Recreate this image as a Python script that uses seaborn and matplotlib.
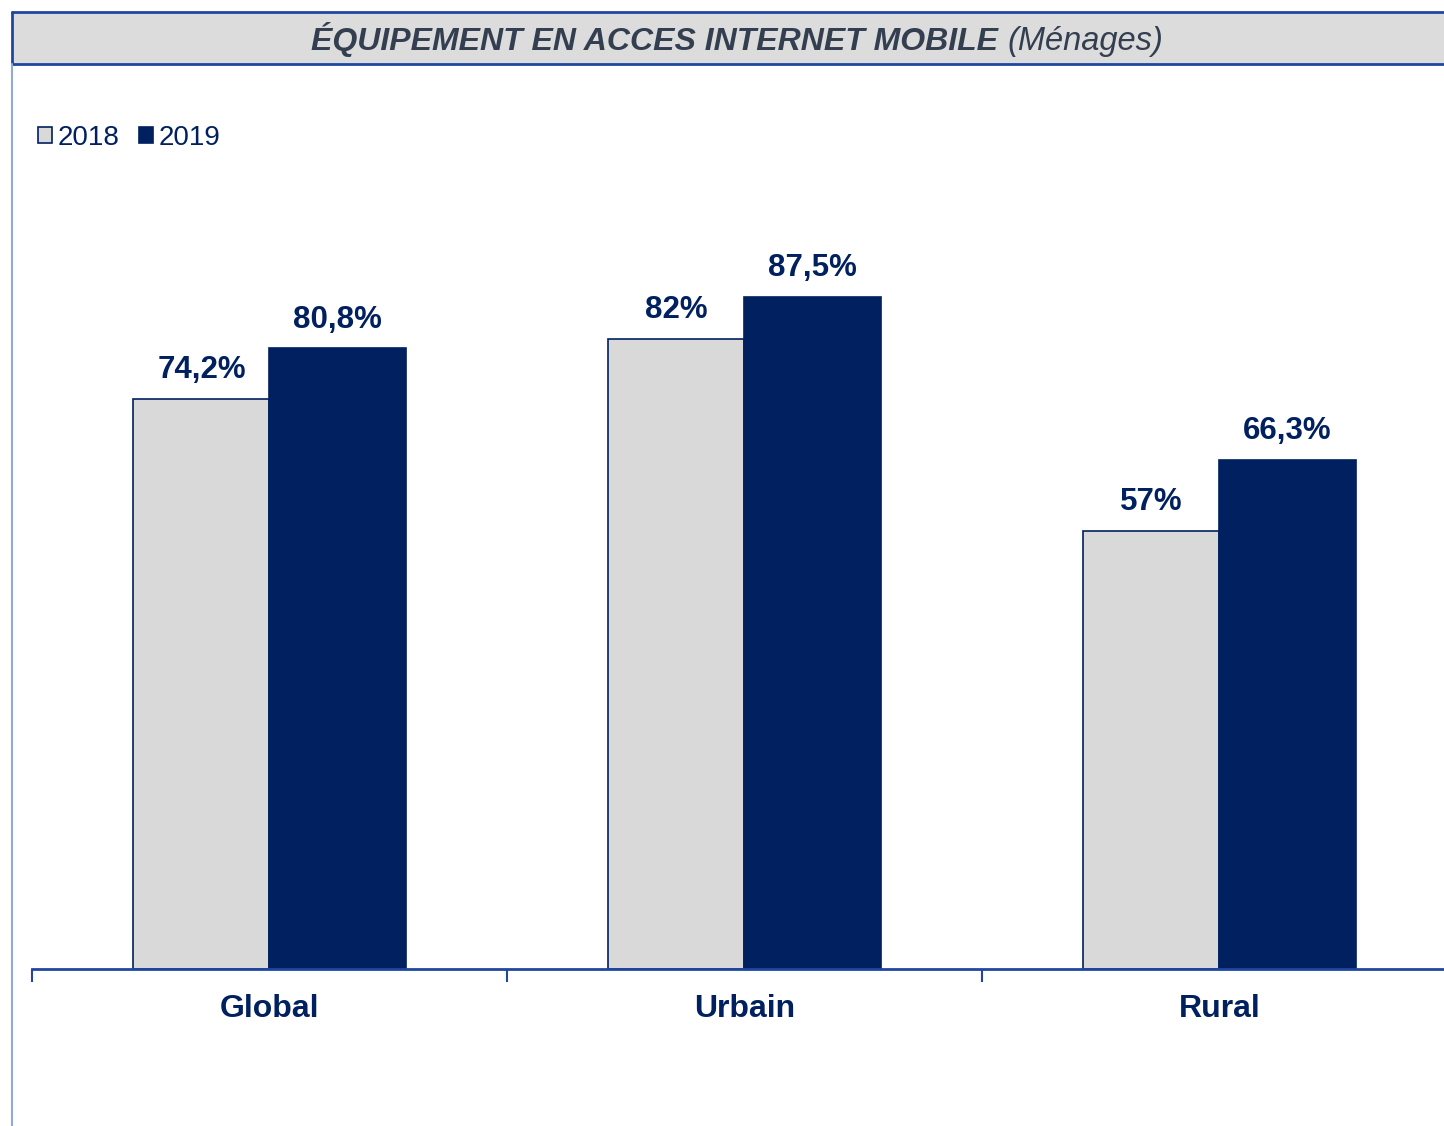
import pandas as pd
import seaborn as sns
import matplotlib.pyplot as plt
from matplotlib.patches import Rectangle, Patch
from matplotlib.lines import Line2D

CATEGORIES = ["Global", "Urbain", "Rural"]
YEARS = ["2018", "2019"]
VALUES_2018 = [74.2, 82.0, 57.0]
VALUES_2019 = [80.8, 87.5, 66.3]

NAVY = "#002060"
GREY = "#d9d9d9"
AXIS_BLUE = "#1f47a0"
W, H = 1444, 1126

sns.set_theme(style="white")
plt.rcParams["font.family"] = ["Liberation Sans", "DejaVu Sans"]

df = pd.DataFrame({
    "cat": CATEGORIES * 2,
    "year": [YEARS[0]] * 3 + [YEARS[1]] * 3,
    "value": VALUES_2018 + VALUES_2019,
})

fig = plt.figure(figsize=(W / 100, H / 100), dpi=100)
ax = fig.add_axes([32 / W, (H - 969) / H, 1425 / W, 768 / H])

sns.barplot(
    data=df, x="cat", y="value", hue="year",
    palette=[GREY, NAVY], width=0.573, ax=ax,
    edgecolor=NAVY, linewidth=1.2, saturation=1, legend=False,
)

def fmt(v):
    return (f"{v:.0f}" if float(v).is_integer() else f"{v:.1f}".replace(".", ",")) + "%"

for cont in ax.containers:
    ax.bar_label(cont, labels=[fmt(b.get_height()) for b in cont],
                 padding=10, fontsize=22.5, fontweight="bold", color=NAVY)

ax.set_xlim(-0.5, 2.5)
ax.set_ylim(0, 100)
ax.set_xlabel("")
ax.set_ylabel("")
ax.set_yticks([])
ax.set_xticks(range(3))
ax.set_xticklabels(CATEGORIES, fontsize=23, fontweight="bold", color=NAVY)
ax.set_xticks([-0.5, 0.5, 1.5, 2.5], minor=True)
ax.tick_params(axis="x", which="major", length=0, pad=18)
ax.tick_params(axis="x", which="minor", length=9, width=1.5, color=AXIS_BLUE,
               direction="out", bottom=True)
for s in ["top", "right", "left"]:
    ax.spines[s].set_visible(False)
ax.spines["bottom"].set_color(AXIS_BLUE)
ax.spines["bottom"].set_linewidth(2)
ax.set_facecolor("none")

# title band
fig.patches.append(Rectangle((12 / W, 1 - 64 / H), 1 - 12 / W, 52 / H,
                             transform=fig.transFigure, facecolor="#dcdcdc",
                             edgecolor="none", zorder=0))
for y in [12, 64]:
    fig.add_artist(Line2D([12 / W, 1], [1 - y / H] * 2, color=AXIS_BLUE, lw=2))
fig.add_artist(Line2D([12 / W] * 2, [1 - 12 / H, 1 - 64 / H], color=AXIS_BLUE, lw=2))
fig.add_artist(Line2D([12 / W] * 2, [0, 1 - 64 / H], color="#8faadc", lw=1.5))

fig.text(998 / W, 1 - 50 / H, "ÉQUIPEMENT EN ACCES INTERNET MOBILE",
         ha="right", va="baseline", fontsize=23, fontweight="bold",
         fontstyle="italic", color="#333f50")
fig.text(1007 / W, 1 - 50 / H, "(Ménages)", ha="left", va="baseline",
         fontsize=23.5, fontstyle="italic", color="#333f50")

handles = [Patch(facecolor=GREY, edgecolor=NAVY, linewidth=1.2),
           Patch(facecolor=NAVY, edgecolor=NAVY, linewidth=1.2)]
leg = fig.legend(handles, YEARS, loc="center left",
                 bbox_to_anchor=(38 / W, 1 - 138 / H), ncol=2, frameon=False,
                 fontsize=20, handlelength=0.5, handleheight=0.5,
                 handletextpad=0.2, columnspacing=0.7, borderaxespad=0,
                 borderpad=0)
for t in leg.get_texts():
    t.set_color(NAVY)

fig.savefig("out.png", dpi=100)
